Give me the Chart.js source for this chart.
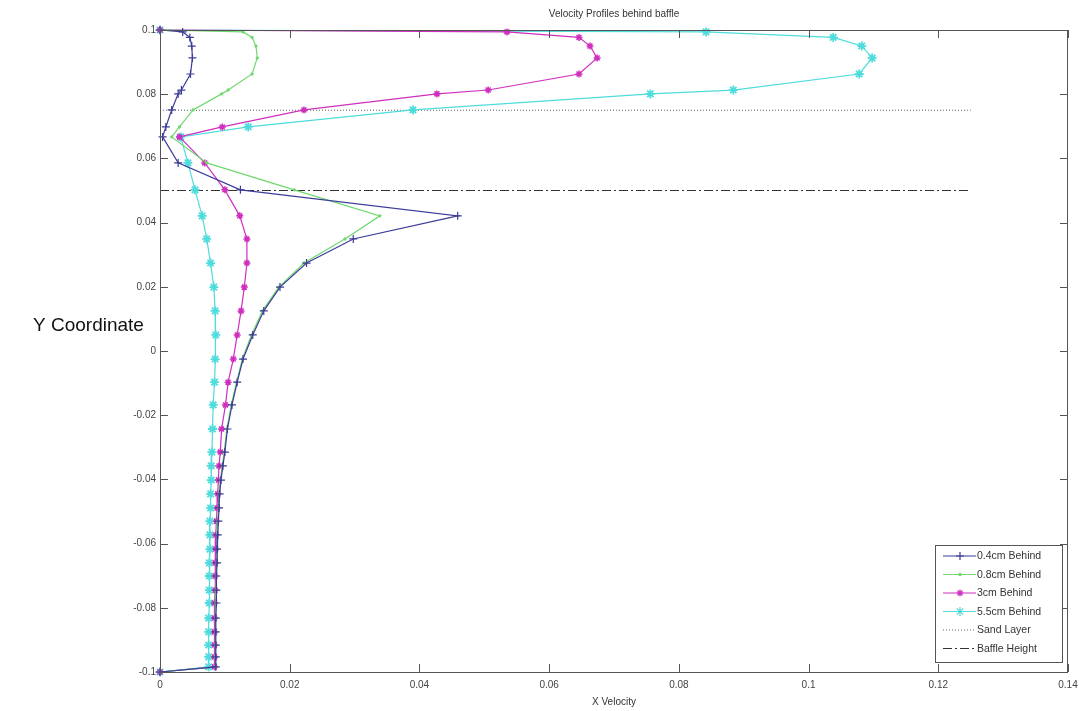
<!DOCTYPE html>
<html>
<head>
<meta charset="utf-8">
<script src="https://cdn.jsdelivr.net/npm/chart.js@4/dist/chart.umd.min.js"></script>
<style>
  html, body { margin: 0; padding: 0; background: #fff; }
  canvas { display: block; }
</style>
</head>
<body>
<canvas id="myChart" width="1079" height="711"></canvas>
<script>
// y positions of the sampled cells (shared by every profile)
const yCoord = [0.1, 0.0994, 0.0977, 0.095, 0.0913, 0.0863, 0.0813, 0.0801, 0.0751, 0.0698,
  0.0667, 0.0586, 0.0502, 0.0421, 0.0349, 0.0274, 0.0199, 0.0125,
  0.005, -0.0025, -0.0097, -0.0168, -0.0243, -0.0315,
  -0.0358, -0.0402, -0.0445, -0.0489, -0.053,
  -0.0573, -0.0617, -0.066, -0.0701, -0.0745,
  -0.0785, -0.0832, -0.0875, -0.0916, -0.0953,
  -0.0984, -0.1];

// x velocity of each profile
const vel04 = [0, 0.0035, 0.0046, 0.0049, 0.005, 0.0047, 0.0033, 0.0028, 0.0018, 0.0009,
  0.0004, 0.0028, 0.0124, 0.0459, 0.0298, 0.0226, 0.0185, 0.016,
  0.0143, 0.0128, 0.0119, 0.0111, 0.0104, 0.01,
  0.0097, 0.0094, 0.0092, 0.0091, 0.009,
  0.0089, 0.0088, 0.0088, 0.0087, 0.0087,
  0.0087, 0.0086, 0.0086, 0.0086, 0.0086,
  0.0086, 0];
const vel08 = [0, 0.0128, 0.0142, 0.0148, 0.015, 0.0142, 0.0105, 0.0095, 0.0051, 0.003,
  0.0018, 0.0072, 0.0207, 0.0339, 0.0285, 0.0222, 0.0183, 0.0158,
  0.0141, 0.0127, 0.0118, 0.011, 0.0103, 0.0099,
  0.0096, 0.0093, 0.0091, 0.009, 0.0089,
  0.0088, 0.0088, 0.0087, 0.0087, 0.0086,
  0.0086, 0.0086, 0.0086, 0.0085, 0.0085,
  0.0085, 0];
const vel3 = [0, 0.0535, 0.0646, 0.0663, 0.0674, 0.0646, 0.0506, 0.0427, 0.0222, 0.0096,
  0.003, 0.0069, 0.01, 0.0123, 0.0134, 0.0134, 0.013, 0.0125,
  0.0119, 0.0113, 0.0105, 0.0101, 0.0095, 0.0093,
  0.0091, 0.009, 0.0089, 0.0088, 0.0087,
  0.0086, 0.0086, 0.0085, 0.0085, 0.0085,
  0.0084, 0.0084, 0.0084, 0.0084, 0.0084,
  0.0084, 0];
const vel55 = [0, 0.0842, 0.1038, 0.1082, 0.1098, 0.1078, 0.0884, 0.0756, 0.039, 0.0136,
  0.0032, 0.0043, 0.0054, 0.0065, 0.0072, 0.0078, 0.0083, 0.0085,
  0.0086, 0.0085, 0.0084, 0.0082, 0.0081, 0.008,
  0.0079, 0.0079, 0.0078, 0.0078, 0.0077,
  0.0077, 0.0077, 0.0076, 0.0076, 0.0076,
  0.0076, 0.0075, 0.0075, 0.0075, 0.0075,
  0.0075, 0];

// reference lines
const lineX = [0, 0.125];
const sandY = [0.075, 0.075];
const baffleY = [0.05, 0.05];

const xTicks = [0, 0.02, 0.04, 0.06, 0.08, 0.1, 0.12, 0.14];
const yTicks = [-0.1, -0.08, -0.06, -0.04, -0.02, 0, 0.02, 0.04, 0.06, 0.08, 0.1];

const labels = ['0.4cm Behind', '0.8cm Behind', '3cm Behind', '5.5cm Behind', 'Sand Layer', 'Baffle Height'];

const FONT = '"Liberation Sans", Arial, sans-serif';

function profile(xs) {
  return yCoord.map((y, i) => ({ x: xs[i], y: y }));
}
function hline(ys) {
  return lineX.map((x, i) => ({ x: x, y: ys[i] }));
}
function fmt(v) {
  return String(Number(v.toFixed(2)));
}

const datasets = [
  { label: labels[0], data: profile(vel04), borderColor: '#3c3c98', pointStyle: 'cross', pointRadius: 4, pointBorderWidth: 1.2 },
  { label: labels[1], data: profile(vel08), borderColor: '#6fd86f', pointStyle: 'circle', pointRadius: 1.2, pointBorderWidth: 1 },
  { label: labels[2], data: profile(vel3), borderColor: '#cf2fbf', pointStyle: 'star', pointRadius: 3.5, pointBorderWidth: 1.5 },
  { label: labels[3], data: profile(vel55), borderColor: '#4edcdc', pointStyle: 'star', pointRadius: 4.5, pointBorderWidth: 1.8 },
  { label: labels[4], data: hline(sandY), borderColor: '#666', borderDash: [1, 2], pointRadius: 0 },
  { label: labels[5], data: hline(baffleY), borderColor: '#333', borderDash: [9, 3, 2, 3], pointRadius: 0 },
].map(d => Object.assign({
  showLine: true,
  borderWidth: 1.2,
  backgroundColor: d.borderColor,
  pointBackgroundColor: d.borderColor,
  pointBorderColor: d.borderColor,
  clip: 6,
}, d));

// box, inward ticks, texts and legend, drawn like the MATLAB figure
const matlabFrame = {
  id: 'matlabFrame',
  afterDraw(chart) {
    const { ctx, chartArea: a, scales: { x, y } } = chart;
    ctx.save();
    ctx.strokeStyle = '#555';
    ctx.lineWidth = 1;
    ctx.strokeRect(a.left + 0.5, a.top + 0.5, a.right - a.left - 1, a.bottom - a.top);
    ctx.beginPath();
    xTicks.forEach(v => {
      const px = Math.round(x.getPixelForValue(v)) + 0.5;
      ctx.moveTo(px, a.bottom); ctx.lineTo(px, a.bottom - 8);
      ctx.moveTo(px, a.top); ctx.lineTo(px, a.top + 8);
    });
    yTicks.forEach(v => {
      const py = Math.round(y.getPixelForValue(v)) + 0.5;
      ctx.moveTo(a.left, py); ctx.lineTo(a.left + 8, py);
      ctx.moveTo(a.right, py); ctx.lineTo(a.right - 8, py);
    });
    ctx.stroke();

    // titles
    ctx.fillStyle = '#333';
    ctx.textAlign = 'center';
    ctx.textBaseline = 'middle';
    ctx.font = '10px ' + FONT;
    ctx.fillText('Velocity Profiles behind baffle', (a.left + a.right) / 2, 14);
    ctx.fillText('X Velocity', (a.left + a.right) / 2, 702);
    ctx.fillStyle = '#111';
    ctx.textAlign = 'left';
    ctx.font = '19px ' + FONT;
    ctx.fillText('Y Coordinate', 33, 326);

    // legend
    const bw = 127, bh = 117;
    const bx = a.right - 6 - bw, by = a.bottom - 10 - bh;
    ctx.fillStyle = '#fff';
    ctx.fillRect(bx, by, bw, bh);
    ctx.strokeStyle = '#555';
    ctx.strokeRect(bx + 0.5, by + 0.5, bw, bh);
    ctx.font = '10.5px ' + FONT;
    chart.data.datasets.forEach((d, i) => {
      const ry = by + 11 + i * 18.5;
      ctx.save();
      ctx.strokeStyle = d.borderColor;
      ctx.lineWidth = 1.2;
      ctx.setLineDash(d.borderDash || []);
      ctx.beginPath();
      ctx.moveTo(bx + 8, ry); ctx.lineTo(bx + 41, ry);
      ctx.stroke();
      ctx.setLineDash([]);
      if (d.pointRadius > 0 && Chart.helpers && Chart.helpers.drawPoint) {
        ctx.fillStyle = d.borderColor;
        Chart.helpers.drawPoint(ctx, {
          pointStyle: d.pointStyle, radius: d.pointRadius,
          borderWidth: d.pointBorderWidth, rotation: 0
        }, bx + 25, ry);
      }
      ctx.restore();
      ctx.fillStyle = '#333';
      ctx.textAlign = 'left';
      ctx.fillText(d.label, bx + 42, ry + 0.5);
    });
    ctx.restore();
  }
};

const ctx = document.getElementById('myChart');
const chart = new Chart(ctx, {
  type: 'scatter',
  data: { datasets: datasets },
  options: {
    responsive: false,
    animation: false,
    layout: { padding: { left: 0, right: 0, top: 30, bottom: 0 } },
    plugins: {
      legend: { display: false },
      title: { display: false },
      tooltip: { enabled: false },
    },
    scales: {
      x: {
        type: 'linear',
        min: 0,
        max: 0.14,
        afterBuildTicks: s => { s.ticks = xTicks.map(v => ({ value: v })); },
        afterFit: s => { s.height = 39; s.paddingLeft = 0; s.paddingRight = 11; },
        ticks: { padding: 7, color: '#444', font: { family: FONT, size: 10 }, callback: fmt, maxRotation: 0 },
        grid: { display: false, drawTicks: false },
        border: { display: false },
      },
      y: {
        type: 'linear',
        min: -0.1,
        max: 0.1,
        afterBuildTicks: s => { s.ticks = yTicks.map(v => ({ value: v })); },
        afterFit: s => { s.width = 160; s.paddingTop = 0; s.paddingBottom = 0; },
        ticks: { padding: 4, color: '#444', font: { family: FONT, size: 10 }, callback: fmt },
        grid: { display: false, drawTicks: false },
        border: { display: false },
      },
    },
  },
  plugins: [matlabFrame],
});
</script>
</body>
</html>
